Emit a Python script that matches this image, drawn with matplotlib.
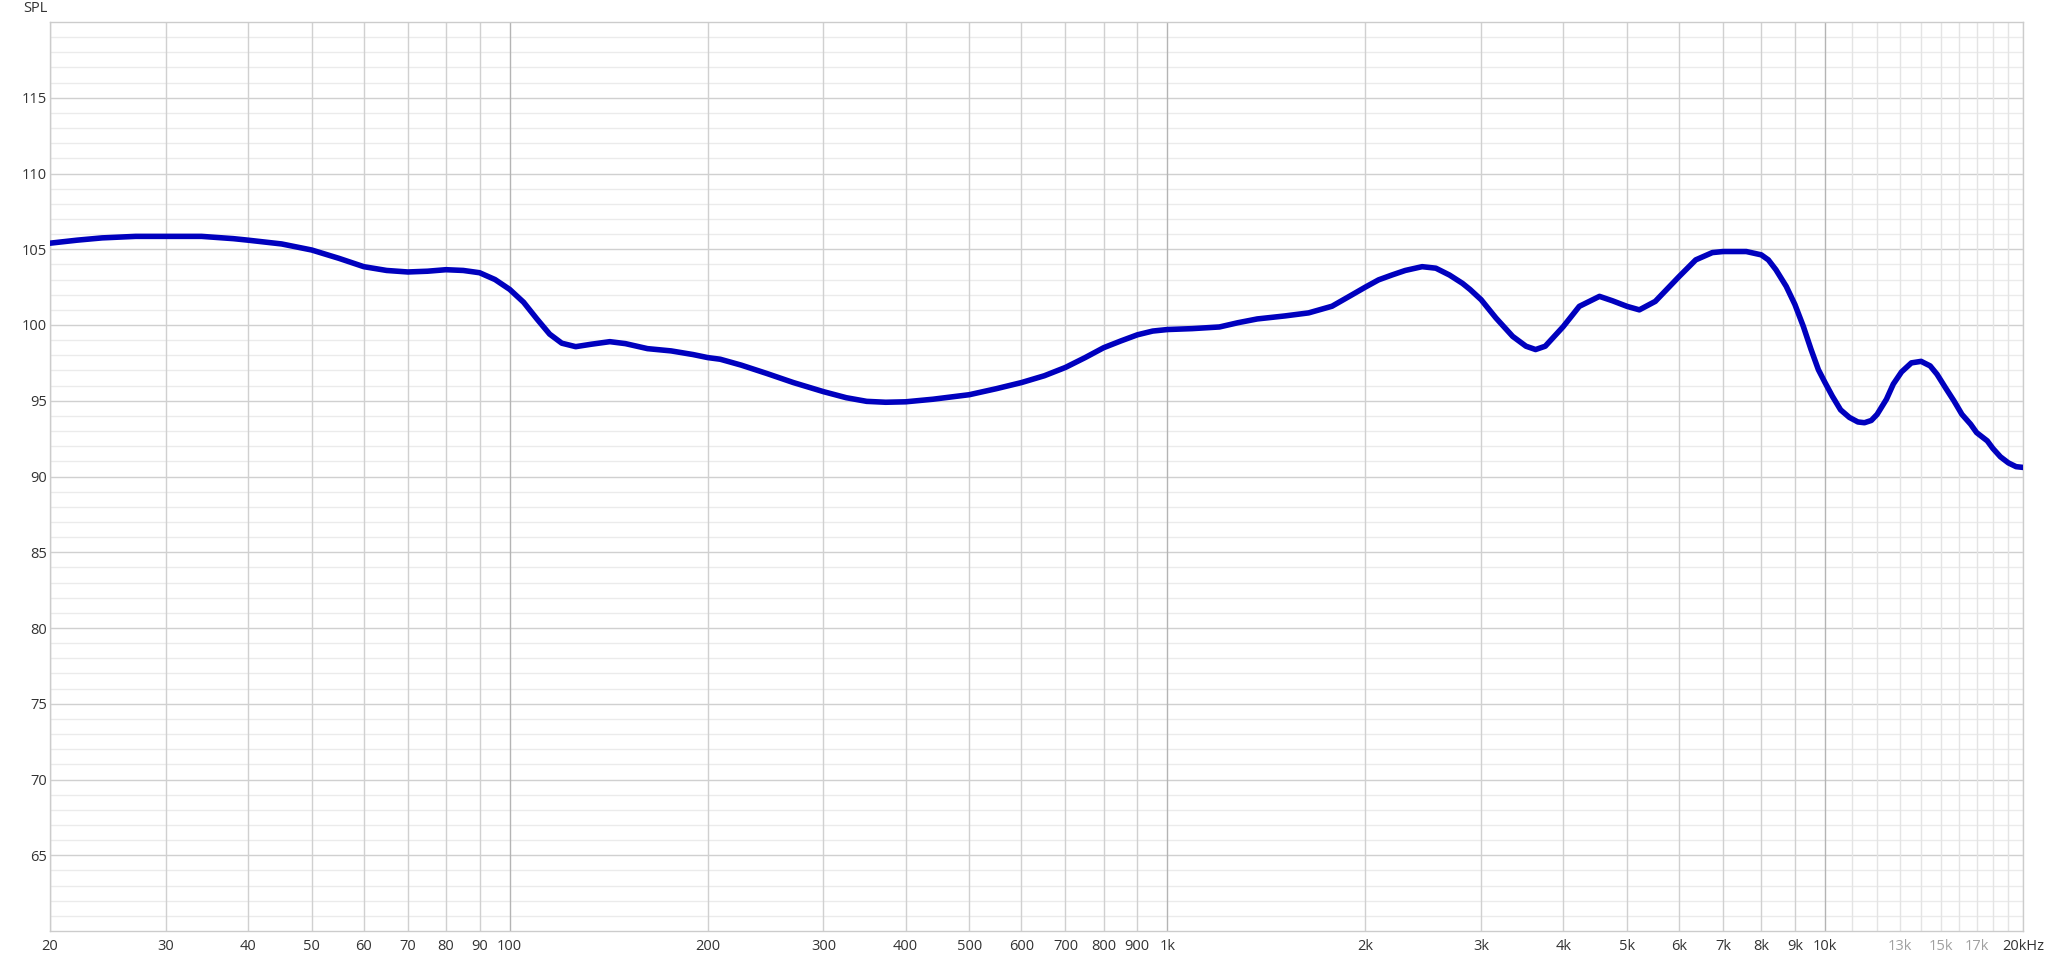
import numpy as np
import matplotlib
matplotlib.use("Agg")
import matplotlib.pyplot as plt

# Frequency response (Hz, dB SPL)
freq = [20, 22, 24, 27, 30, 34, 38, 40, 45, 50, 55, 60, 65, 70, 75, 80, 85, 90,
        95, 100, 105, 110, 115, 120, 126, 133, 142, 150, 162, 176, 190, 200, 209,
        225, 246, 270, 300, 325, 349, 373, 400, 440, 500, 550, 600, 650, 700, 750,
        800, 850, 900, 950, 1000, 1090, 1200, 1280, 1370, 1510, 1640, 1780, 1910,
        2000, 2095, 2195, 2300, 2440, 2560, 2685, 2810, 2885, 3000, 3160, 3350,
        3510, 3630, 3755, 4000, 4230, 4540, 4750, 5000, 5220, 5520, 6000, 6360,
        6740, 7000, 7590, 8000, 8200, 8420, 8730, 9000, 9270, 9520, 9770, 10000,
        10260, 10560, 10890, 11220, 11480, 11760, 12000, 12400, 12700, 13070,
        13530, 14000, 14450, 14800, 15250, 15700, 16150, 16650, 17000, 17650,
        18000, 18480, 19000, 19520, 20000]
spl = [105.4, 105.6, 105.75, 105.85, 105.85, 105.85, 105.7, 105.6, 105.35, 104.95,
       104.4, 103.85, 103.6, 103.5, 103.55, 103.65, 103.6, 103.45, 103.0, 102.35,
       101.5, 100.4, 99.4, 98.8, 98.57, 98.73, 98.9, 98.77, 98.44, 98.29, 98.05,
       97.85, 97.74, 97.35, 96.8, 96.2, 95.6, 95.2, 94.96, 94.9, 94.93, 95.1, 95.4,
       95.8, 96.2, 96.65, 97.2, 97.85, 98.5, 98.95, 99.35, 99.6, 99.7, 99.76,
       99.87, 100.15, 100.4, 100.6, 100.8, 101.24, 102.0, 102.5, 102.98, 103.3,
       103.6, 103.85, 103.75, 103.3, 102.75, 102.35, 101.67, 100.46, 99.25, 98.6,
       98.38, 98.6, 99.9, 101.23, 101.89, 101.6, 101.23, 101.0, 101.56, 103.2,
       104.3, 104.78, 104.85, 104.85, 104.63, 104.3, 103.65, 102.55, 101.35, 99.9,
       98.4, 97.05, 96.2, 95.3, 94.4, 93.9, 93.6, 93.55, 93.7, 94.1, 95.1, 96.1,
       96.9, 97.5, 97.6, 97.3, 96.75, 95.85, 95.0, 94.1, 93.45, 92.9, 92.35, 91.85,
       91.3, 90.9, 90.65, 90.6]

y_major = list(range(65, 120, 5))
x_major = [20, 30, 40, 50, 60, 70, 80, 90, 100, 200, 300, 400, 500, 600, 700, 800,
           900, 1000, 2000, 3000, 4000, 5000, 6000, 7000, 8000, 9000, 10000, 13000,
           15000, 17000, 20000]
x_labels = ["20", "30", "40", "50", "60", "70", "80", "90", "100", "200", "300",
            "400", "500", "600", "700", "800", "900", "1k", "2k", "3k", "4k", "5k",
            "6k", "7k", "8k", "9k", "10k", "13k", "15k", "17k", "20kHz"]
faint_labels = ["13k", "15k", "17k"]

plt.rcParams["font.family"] = ["Open Sans", "DejaVu Sans"]

fig = plt.figure(figsize=(20.48, 9.58), dpi=100)
ax = fig.add_axes([50 / 2048, 27 / 958, 1973 / 2048, 909 / 958])
ax.set_xscale("log")
ax.set_xlim(20, 20000)
ax.set_ylim(60, 120)

# Grid: horizontal every 1 dB (light), every 5 dB (darker)
for v in range(61, 120):
    major = v % 5 == 0
    ax.axhline(v, color="#d0d0d0" if major else "#ebebeb", lw=1.0, zorder=0)

# Grid: vertical lines at 1-2-...-9 per decade, plus each 1k above 10k
vlines = [m * 10 ** d for d in range(1, 4) for m in range(2 if d == 1 else 1, 10)]
vlines += list(range(10000, 20001, 1000))
for f in vlines:
    if f in (100, 1000, 10000):
        c = "#b4b4b4"
    elif f > 10000:
        c = "#e4e4e4"
    else:
        c = "#d0d0d0"
    ax.axvline(f, color=c, lw=1.0, zorder=0)

ax.plot(freq, spl, color="#0000BE", lw=4.0, solid_capstyle="round",
        solid_joinstyle="round", zorder=3)

for s in ax.spines.values():
    s.set_color("#cccccc")
    s.set_linewidth(1.0)

ax.tick_params(length=0, labelsize=10.5, colors="#333333", pad=6)
ax.set_yticks(y_major)
ax.set_yticklabels([str(v) for v in y_major])
ax.tick_params(axis="y", pad=2)
ax.set_xticks(x_major)
ax.set_xticklabels(x_labels)
ax.xaxis.set_minor_locator(matplotlib.ticker.NullLocator())
for lab in ax.get_xticklabels():
    if lab.get_text() in faint_labels:
        lab.set_color("#a0a0a0")

fig.text(48 / 2048, 1 - 9 / 958, "SPL", ha="right", va="center", fontsize=10.5,
         color="#333333")

fig.savefig("out.png", dpi=100, facecolor="white")
